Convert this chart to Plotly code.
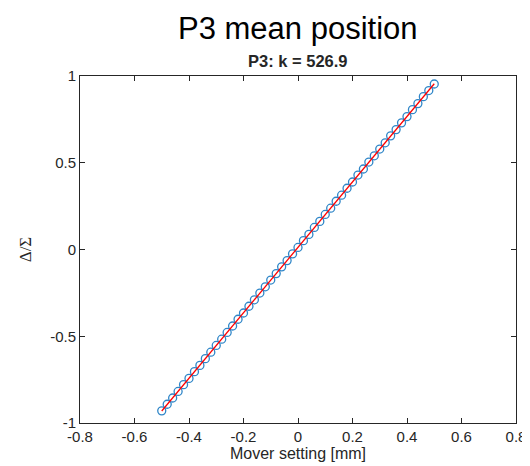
import numpy as np
import plotly.graph_objects as go

# Data
mover_mm = [round(-0.5 + 0.02 * i, 2) for i in range(51)]
delta_sigma = [
    -0.930, -0.892, -0.856, -0.818, -0.779, -0.743, -0.704, -0.668, -0.629, -0.592,
    -0.553, -0.517, -0.478, -0.441, -0.402, -0.366, -0.327, -0.290, -0.251, -0.215,
    -0.176, -0.139, -0.100, -0.064, -0.025, 0.012, 0.051, 0.087, 0.127, 0.162,
    0.202, 0.238, 0.278, 0.313, 0.353, 0.389, 0.429, 0.464, 0.504, 0.540,
    0.579, 0.615, 0.655, 0.691, 0.730, 0.766, 0.806, 0.841, 0.881, 0.916,
    0.954,
]
x_ticks = [-0.8, -0.6, -0.4, -0.2, 0, 0.2, 0.4, 0.6, 0.8]
x_tick_labels = ["-0.8", "-0.6", "-0.4", "-0.2", "0", "0.2", "0.4", "0.6", "0.8"]
y_ticks = [-1, -0.5, 0, 0.5, 1]
y_tick_labels = ["-1", "-0.5", "0", "0.5", "1"]
title_text = "P3 mean position"
subtitle_text = "P3: k = 526.9"

# Linear fit
coef = np.polyfit(mover_mm, delta_sigma, 1)
fit_y = np.polyval(coef, mover_mm)

SANS = "Liberation Sans, Arial, Helvetica, sans-serif"

fig = go.Figure()
fig.add_trace(go.Scatter(
    x=mover_mm, y=delta_sigma, mode="markers",
    marker=dict(symbol="circle-open", size=8, color="#2F86C8", line=dict(width=1.3)),
    showlegend=False,
))
fig.add_trace(go.Scatter(
    x=mover_mm, y=fit_y, mode="lines",
    line=dict(color="#FF0000", width=1.3),
    showlegend=False,
))

axis_common = dict(
    showline=True, linecolor="#262626", linewidth=1, mirror="ticks",
    ticks="inside", ticklen=5, tickcolor="#262626", tickwidth=1,
    showgrid=False, zeroline=False,
    tickfont=dict(family=SANS, size=15, color="#262626"),
)

fig.update_layout(
    width=530, height=466,
    margin=dict(l=72, r=13, t=68, b=51),
    paper_bgcolor="white", plot_bgcolor="white",
    xaxis=dict(range=[-0.8, 0.8], tickvals=x_ticks, ticktext=x_tick_labels,
               title=dict(text="Mover setting [mm]", standoff=2,
                          font=dict(family=SANS, size=16, color="#262626")),
               **axis_common),
    yaxis=dict(range=[-1, 1], tickvals=y_ticks, ticktext=y_tick_labels,
               title=dict(text="Δ/Σ", standoff=14,
                          font=dict(family="Liberation Serif, Times New Roman, serif", size=17, color="#262626")),
               **axis_common),
    annotations=[
        dict(text=title_text, x=0.5, xref="paper", y=1, yref="paper",
             yshift=28, xanchor="center", yanchor="bottom", showarrow=False,
             font=dict(family=SANS, size=31, color="black")),
        dict(text="<b>" + subtitle_text + "</b>", x=0.5, xref="paper", y=1, yref="paper",
             yshift=4, xanchor="center", yanchor="bottom", showarrow=False,
             font=dict(family=SANS, size=16.5, color="#262626")),
    ],
)

fig.write_html("out.html")
